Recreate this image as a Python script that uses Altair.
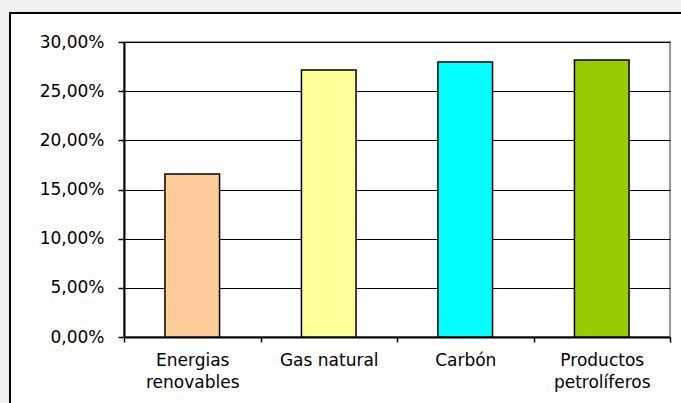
import altair as alt
import pandas as pd

# Share of each energy source
categories = ["Energias\nrenovables", "Gas natural", "Carbón", "Productos\npetrolíferos"]
shares = [0.1658, 0.2716, 0.2797, 0.2818]
colors = ["#FFCC99", "#FFFF99", "#00FFFF", "#99CC00"]

df = pd.DataFrame({"fuente": categories, "cuota": shares, "color": colors})

FONT = "DejaVu Sans"
one = pd.DataFrame({"k": [0]})

# Grey margin strips outside the framed panel, and the panel's black border
strip_left = alt.Chart(one).mark_rect(fill="#F0F0F0").encode(
    x=alt.value(-130), x2=alt.value(-114), y=alt.value(-50), y2=alt.value(500)
)
strip_top = alt.Chart(one).mark_rect(fill="#F0F0F0").encode(
    x=alt.value(-130), x2=alt.value(700), y=alt.value(-50), y2=alt.value(-29)
)
border = alt.Chart(one).mark_rect(
    fillOpacity=0, stroke="black", strokeWidth=2
).encode(
    x=alt.value(-114), x2=alt.value(700), y=alt.value(-29), y2=alt.value(500)
)

bars = alt.Chart(df).mark_bar(
    width=alt.RelativeBandSize(0.4), stroke="black", strokeWidth=1.5
).encode(
    x=alt.X(
        "fuente:N",
        sort=categories,
        scale=alt.Scale(paddingInner=0, paddingOuter=0),
        axis=alt.Axis(
            title=None,
            labelAngle=0,
            tickBand="extent",
            tickSize=5,
            tickColor="black",
            tickWidth=1.5,
            domainColor="black",
            domainWidth=2,
            labelFont=FONT,
            labelFontSize=17,
            labelColor="black",
            labelPadding=10,
            labelLineHeight=22,
            labelExpr="split(datum.label, '\\n')",
            grid=False,
        ),
    ),
    y=alt.Y(
        "cuota:Q",
        scale=alt.Scale(domain=[0, 0.30], nice=False),
        axis=alt.Axis(
            title=None,
            values=[0, 0.05, 0.10, 0.15, 0.20, 0.25, 0.30],
            labelExpr="replace(format(datum.value, '.2%'), '.', ',')",
            tickSize=6,
            tickColor="black",
            tickWidth=1.5,
            domainColor="black",
            domainWidth=2,
            gridColor="black",
            gridWidth=1.2,
            labelFont=FONT,
            labelFontSize=17,
            labelColor="black",
            labelPadding=14,
        ),
    ),
    color=alt.Color("color:N", scale=None, legend=None),
)

chart = alt.layer(strip_left, strip_top, border, bars).properties(
    width=546,
    height=295,
    background="white",
    padding={"left": 124, "top": 42, "right": 11, "bottom": 66},
    autosize=alt.AutoSizeParams(type="none"),
).configure_view(
    stroke="#999999", strokeWidth=2
)

chart.save("out.html", embed_options={"renderer": "svg", "actions": False})
